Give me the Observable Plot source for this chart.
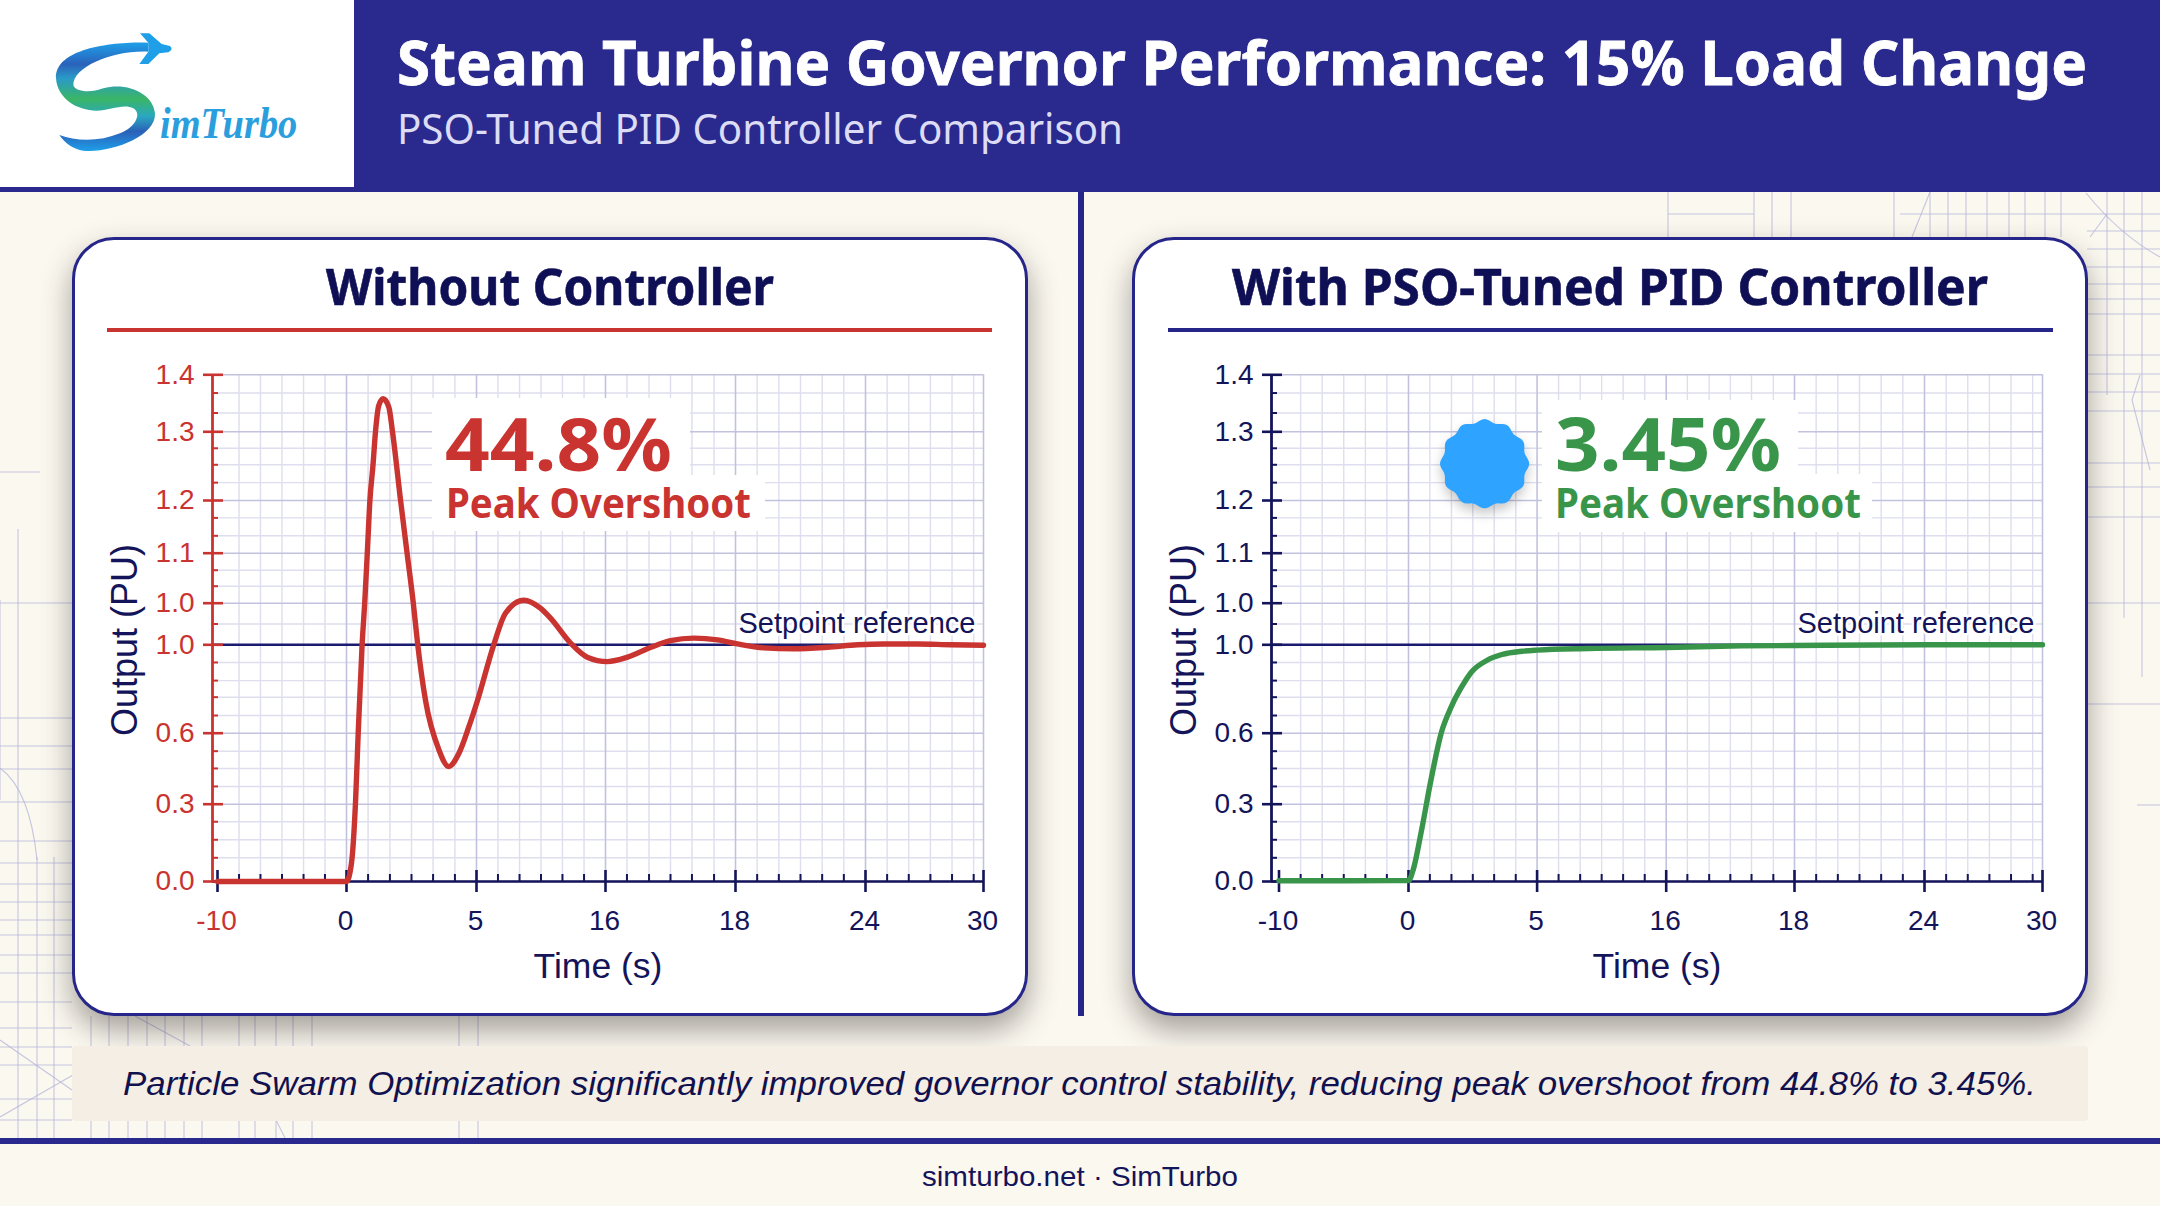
<!DOCTYPE html>
<html><head><meta charset="utf-8">
<script src="https://cdn.jsdelivr.net/npm/d3@7"></script>
<script src="https://cdn.jsdelivr.net/npm/@observablehq/plot@0.6"></script>
<style>
html,body{margin:0;padding:0;background:#fbf8f0}
#page{position:relative;width:2160px;height:1206px;overflow:hidden;background:#fbf8f0;font-family:"Liberation Sans",sans-serif}
.abs{position:absolute}
.card{position:absolute;top:237px;width:950px;height:773px;background:#fff;border:3px solid #25258a;border-radius:42px;box-shadow:0 14px 30px rgba(40,35,30,.42)}
.plot{position:absolute;top:237px}
svg.layer{position:absolute;left:0;top:0}
</style></head><body>
<div id="page">
  <svg id="bgLayer" class="layer" width="2160" height="1206"></svg>
  <div class="abs" style="left:0;top:0;width:2160px;height:192px;background:#2a2a8e"></div>
  <div class="abs" style="left:0;top:0;width:354px;height:187px;background:#fff"></div>
  <div class="abs" style="left:0;top:1138px;width:2160px;height:6px;background:#2a2a8e"></div>
  <div class="abs" style="left:1078px;top:192px;width:6px;height:824px;background:#25258a"></div>
  <div class="card" style="left:72px"></div>
  <div class="card" style="left:1132px"></div>
  <div class="abs" style="left:72px;top:1046px;width:2016px;height:75px;background:#f4eee4;border-radius:4px"></div>
  <div id="plotA" class="plot" style="left:72px"></div>
  <div id="plotB" class="plot" style="left:1133px"></div>
  <svg id="topLayer" class="layer" width="2160" height="1206"></svg>
</div>
<script>
// ---------- data ----------
const xTicks = [-10, 0, 5, 16, 18, 24, 30];
const xMinor = [-8.33,-6.67,-5,-3.33,-1.67,0.83,1.67,2.5,3.33,4.17,6.83,8.67,10.5,12.33,14.17,16.33,16.67,17,17.33,17.67,19,20,21,22,23,25.1,26.2,27.3,28.4,29.5];
const yTicks = [0, 0.3, 0.6, 1, 1.05, 1.1, 1.2, 1.3, 1.4];
const yTickLabels = ["0.0","0.3","0.6","1.0","1.0","1.1","1.2","1.3","1.4"];
const yMinor = [0.092,0.162,0.232,0.375,0.451,0.524,0.68,0.763,0.838,0.92,1.025,1.067,1.083,1.133,1.167,1.226,1.252,1.276,1.333,1.368];
const setpoint = 1.0;

const redT = [-10,-5,0,0.19,0.35,0.45,0.6,0.7,0.8,0.9,1.02,1.115,1.24,1.41,1.63,1.77,2.08,2.33,2.57,2.74,3.04,3.55,3.93,4.32,4.7,5.085,6.47,7.47,9.03,10.45,11.31,13.02,14.44,16.03,16.34,16.7,17,17.36,17.72,18.09,19.31,20.69,22.25,23.63,24.93,26.64,28.33,30];
const redY = [0,0,0,0.07,0.316,0.6,1,1.05,1.1,1.2,1.252,1.3,1.346,1.358,1.343,1.3,1.2,1.1,1.05,1,0.748,0.531,0.459,0.514,0.627,0.748,1,1.038,1.053,1.044,1.032,1.002,0.944,0.924,0.944,0.989,1.005,1.008,1.006,1.001,0.986,0.982,0.989,1,1.001,1.001,1,0.998];
const greenT = [-10,-5,0,0.19,0.49,0.88,1.27,1.67,2.06,2.45,3.04,3.63,4.42,5,9.35,16,17.18,18,24,30];
const greenY = [0.003,0.003,0.004,0.048,0.19,0.406,0.6,0.721,0.808,0.877,0.929,0.956,0.971,0.976,0.983,0.988,0.995,0.997,1,1];

const navy = "#14145a", red = "#c93330", green = "#38954a", blue="#25258a";
const gridMajor = "#c2c2de", gridMinor = "#dedeee";
const xStart = -10.39;

function chart(tArr, yArr, lineColor, axisColor, firstX, xRange) {
  const pts = tArr.map((t,i)=>({t, v:yArr[i]}));
  return Plot.plot({
    width:956, height:779, marginLeft:xRange[0], marginRight:956-xRange[7], marginTop:137, marginBottom:135,
    style:{background:"transparent", fontFamily:"Liberation Sans", overflow:"visible"},
    x:{type:"linear", domain:[xStart,...xTicks], range:xRange},
    y:{type:"linear", domain:yTicks, range:[644,566.7,495.7,407.3,365.7,315.7,263,194.3,137.3]},
    marks:[
      Plot.ruleX(xMinor,{y1:0,y2:1.4,stroke:gridMinor,strokeWidth:1.4}),
      Plot.ruleY(yMinor,{x1:xStart,x2:30,stroke:gridMinor,strokeWidth:1.4}),
      Plot.ruleX(xTicks.slice(1),{y1:0,y2:1.4,stroke:gridMajor,strokeWidth:1.6}),
      Plot.ruleY(yTicks,{x1:xStart,x2:30,stroke:gridMajor,strokeWidth:1.6}),
      Plot.ruleY([setpoint],{x1:xStart,x2:30,stroke:"#1a1a6e",strokeWidth:2.5}),
      Plot.text(["Setpoint reference"],{x:30,y:setpoint,text:d=>d,textAnchor:"end",dx:-8,dy:-21,fontSize:29,fill:navy,stroke:"#fff",strokeWidth:5,paintOrder:"stroke"}),
      // x axis
      Plot.ruleY([0],{x1:xStart,x2:30,stroke:navy,strokeWidth:2.6}),
      Plot.ruleX(xMinor,{y1:0,y2:0,insetTop:-7,stroke:navy,strokeWidth:2}),
      Plot.ruleX(xTicks,{y1:0,y2:0,insetTop:-11,insetBottom:-11,stroke:navy,strokeWidth:2.6}),
      // y axis
      Plot.ruleX([xStart],{y1:0,y2:1.4,stroke:axisColor,strokeWidth:2.8}),
      Plot.ruleY(yMinor,{x1:xStart,x2:xStart,insetRight:-6,stroke:axisColor,strokeWidth:2}),
      Plot.ruleY(yTicks,{x1:xStart,x2:xStart,insetLeft:-9,insetRight:-11,stroke:axisColor,strokeWidth:2.6}),
      Plot.axisY({ticks:yTicks,tickFormat:d=>yTickLabels[yTicks.indexOf(d)],tickSize:0,tickPadding:18,fontSize:28,fill:axisColor,label:null}),
      Plot.axisX({ticks:xTicks,tickFormat:d=>String(d),tickSize:0,tickPadding:29,fontSize:28,dx:-1,fill:d=>d===-10?firstX:navy,label:null}),
      Plot.text(["Time (s)"],{frameAnchor:"bottom",text:d=>d,lineAnchor:"bottom",dy:96,fontSize:35.5,fill:navy}),
      Plot.text(["Output (PU)"],{frameAnchor:"left",text:d=>d,textAnchor:"middle",rotate:-90,dx:-87,dy:12,fontSize:36,fill:navy}),
      Plot.line(pts,{x:"t",y:"v",stroke:lineColor,strokeWidth:5.4,curve:"monotone-x",strokeLinejoin:"round"})
    ]
  });
}
document.getElementById("plotA").append(chart(redT,redY,red,red,red,[140,145,274,404,533,663,793,911]));
document.getElementById("plotB").append(chart(greenT,greenY,green,navy,navy,[138,145.5,275,403.6,532.7,661,791,909]));

// ---------- decoration + headline text layers ----------
const NS="http://www.w3.org/2000/svg";
function el(parent,tag,attrs,txt){const e=document.createElementNS(NS,tag);for(const k in attrs)e.setAttribute(k,attrs[k]);if(txt)e.textContent=txt;parent.append(e);return e;}

const bgL=document.getElementById("bgLayer");
const L={stroke:"#b4b4da","stroke-width":1.1,fill:"none",opacity:.75};
const vLines=[[18,529,1138],[37,857,1138],[54,857,1138],[0,600,800],
 [91,1016,1138],[109,1016,1138],[128,1016,1138],[147,1016,1138],[165,1016,1138],[184,1016,1138],[202,1016,1138],[239,1016,1138],[255,1016,1138],[276,1016,1138],[293,1016,1138],[312,1016,1138],[459,1016,1138],[478,1016,1138],
 [1668,192,237],[1754,192,237],[1772,192,237],[1791,192,237],[1894,192,237],[1930,192,237],[1948,192,237],[1966,192,237],[1987,192,237],[2009,192,237],[2025,192,237],[2045,192,237],[2061,192,237],
 [2107,192,395],[2124,192,618],[2142,192,677]];
const hLines=[[0,40,472],[0,72,603],[0,72,718],[0,72,746],[0,72,769],[0,72,802],[0,72,841],[0,72,863],[0,72,884],[0,72,902],[0,72,920],[0,72,935],[0,72,955],[0,72,973],[0,72,1002],[0,72,1028],[0,72,1047],[0,72,1065],[0,72,1099],[0,72,1120],
 [1668,1754,214],[1900,2087,214],[2087,2160,214],[2087,2160,231],[2087,2160,249],[2087,2160,267],[2087,2160,284],[2087,2160,299],[2087,2160,314],[2087,2160,355],[2087,2160,374],[2087,2160,392],[2087,2160,411],[2087,2160,463],[2087,2160,487],[2087,2160,517],[2087,2160,603],[2087,2160,704],[2137,2160,805]];
vLines.forEach(([x,a,b])=>el(bgL,"line",{...L,x1:x,x2:x,y1:a,y2:b}));
hLines.forEach(([a,b,y])=>el(bgL,"line",{...L,x1:a,x2:b,y1:y,y2:y}));
["M0 1117 L73 1075","M0 1040 L72 1090","M0 768 Q30 790 37 860","M1912 237 L1930 192","M2086 193 Q2120 235 2160 257","M2090 237 L2107 214","M2140 375 L2132 400 L2150 470","M190 1046 L135 1016","M276 1120 L285 1138","M80 1046 L73 1060"]
 .forEach(d=>el(bgL,"path",{...L,d}));

const topL=document.getElementById("topLayer");
function T(str,x,base,len,size,fill,extra={}){return el(topL,"text",{x,y:base,textLength:len,lengthAdjust:"spacingAndGlyphs","font-size":size,fill,...extra},str);}
const head={"font-family":"Noto Sans"}, bold={"font-family":"Noto Sans","font-weight":700};
const sans={"font-family":"Liberation Sans"};
T("Steam Turbine Governor Performance: 15% Load Change",397,85,1690,61,"#fff",{...bold,stroke:"#fff","stroke-width":.8});
T("PSO-Tuned PID Controller Comparison",397,144,726,41,"#dcdcf5",head);
T("Without Controller",326,305,448,50,"#0f0f55",{...bold,stroke:"#0f0f55","stroke-width":.6});
T("With PSO-Tuned PID Controller",1232,305,756,50,"#0f0f55",{...bold,stroke:"#0f0f55","stroke-width":.6});
el(topL,"rect",{x:107,y:328,width:885,height:4,fill:red});
el(topL,"rect",{x:1168,y:328,width:885,height:4,fill:blue});

// stat call-outs
[[432,398,258,77],[432,475,333,56],[1542,400,256,74],[1542,474,330,58]].forEach(([x,y,w,h])=>el(topL,"rect",{x,y,width:w,height:h,fill:"#fff"}));
T("44.8%",445,471,227,73,red,bold);
T("Peak Overshoot",446,518,305,41,red,bold);
T("3.45%",1555,471,226,73,green,bold);
T("Peak Overshoot",1555,518,306,41,green,bold);

// scalloped badge
const badge=d3.range(0,361,3).map(a=>{const t=a*Math.PI/180,r=43+1.6*Math.cos(12*t);return [1484.6+r*Math.sin(t),463.7-r*Math.cos(t)];});
el(topL,"path",{d:"M"+badge.map(p=>p.join(" ")).join("L")+"Z",fill:"#2ea3ff",style:"filter:drop-shadow(0 6px 6px rgba(0,0,0,.22))"});

T("Particle Swarm Optimization significantly improved governor control stability, reducing peak overshoot from 44.8% to 3.45%.",123,1095,1913,33,"#11114f",{...sans,"font-style":"italic"});
T("simturbo.net · SimTurbo",922,1186,316,28,"#14145a",sans);

// logo
const defs=el(topL,"defs",{});
const g=el(defs,"linearGradient",{id:"rib",x1:0,y1:0,x2:0,y2:1});
[[0,"#1e9fe8"],[.2,"#2a62bb"],[.33,"#2a9ac8"],[.52,"#3ab566"],[.68,"#2aa8c0"],[.82,"#2a60b8"],[1,"#1e9fe8"]].forEach(([o,c])=>el(g,"stop",{offset:o,"stop-color":c}));
const logo=el(topL,"g",{transform:"translate(20,20) scale(.3333)"});
el(logo,"path",{fill:"url(#rib)",d:"M385 68 C260 65 105 90 108 175 C112 235 170 272 230 272 C270 272 310 250 340 265 C365 280 350 320 300 340 C240 365 170 365 118 345 C135 370 160 388 190 392 C270 400 410 350 405 280 C400 220 320 185 250 205 C210 220 165 215 160 195 C160 140 280 90 385 95 Z"});
el(logo,"path",{fill:"#1e9fe8",d:"M360 40 L388 40 L425 72 L450 78 Q462 88 445 97 L418 100 L385 132 L358 132 L385 95 L385 68 Z"});
el(logo,"text",{x:420,y:355,textLength:412,lengthAdjust:"spacingAndGlyphs","font-size":130,"font-family":"Liberation Serif","font-style":"italic","font-weight":700,fill:"#2b9ede"},"imTurbo");
</script>
</body></html>
